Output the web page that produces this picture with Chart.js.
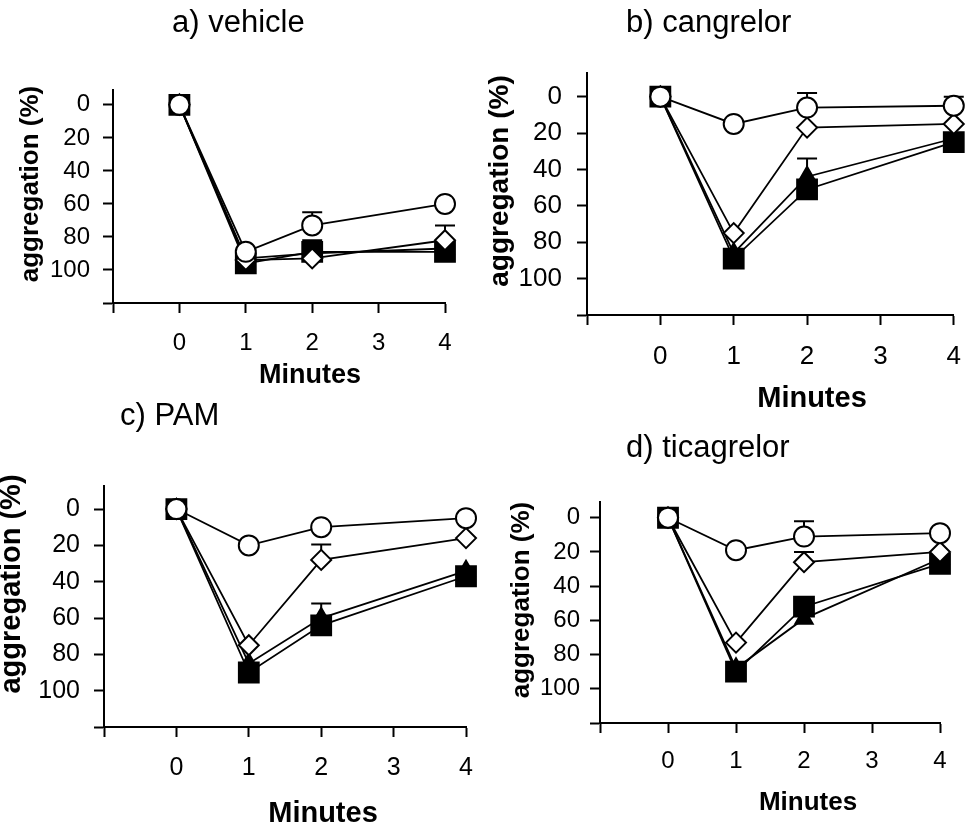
<!DOCTYPE html>
<html>
<head>
<meta charset="utf-8">
<script src="https://cdn.jsdelivr.net/npm/chart.js@4.4.1/dist/chart.umd.min.js"></script>
<style>
  html, body { margin: 0; padding: 0; background: #fff; }
  #wrap { position: relative; width: 977px; height: 825px; overflow: hidden; background: #fff; }
  #wrap canvas { position: absolute; left: 0; top: 0; }
</style>
</head>
<body>
<div id="wrap">
  <canvas id="panelA" width="977" height="825"></canvas>
  <canvas id="panelB" width="977" height="825"></canvas>
  <canvas id="panelC" width="977" height="825"></canvas>
  <canvas id="panelD" width="977" height="825"></canvas>
</div>
<script>
// Sampling times and axis ticks
const minutes = [0, 1, 2, 4];
const xTicks = [-1, 0, 1, 2, 3, 4];
const yTicks = [0, 20, 40, 60, 80, 100, 120];

// a) vehicle — aggregation (%) per group
const vehicleCircle   = [0, 89, 73, 60];
const vehicleDiamond  = [0, 94, 93, 82];
const vehicleSquare   = [0, 96, 89, 89];
const vehicleTriangle = [0, 93, 90, 87];
const vehicleCircleErr   = [null, null, 8, null];
const vehicleDiamondErr  = [null, null, null, 9];
const vehicleSquareErr   = [null, null, 7, null];
const vehicleTriangleErr = [null, null, null, null];

// b) cangrelor
const cangrelorCircle   = [0, 15, 6, 5];
const cangrelorDiamond  = [0, 75, 17, 15];
const cangrelorSquare   = [0, 89, 51, 25];
const cangrelorTriangle = [0, 86, 44, 23];
const cangrelorCircleErr   = [null, null, 8, 5];
const cangrelorDiamondErr  = [null, null, null, null];
const cangrelorSquareErr   = [null, null, null, null];
const cangrelorTriangleErr = [null, null, 10, null];

// c) PAM
const pamCircle   = [0, 20, 10, 5];
const pamDiamond  = [0, 75, 28, 16];
const pamSquare   = [0, 90, 64, 37];
const pamTriangle = [0, 85, 60, 34];
const pamCircleErr   = [null, null, null, null];
const pamDiamondErr  = [null, null, 8.5, null];
const pamSquareErr   = [null, null, null, null];
const pamTriangleErr = [null, null, 8, null];

// d) ticagrelor
const ticaCircle   = [0, 19, 11, 9];
const ticaDiamond  = [0, 73, 26, 20];
const ticaSquare   = [0, 90, 52, 27];
const ticaTriangle = [0, 88, 59, 24];
const ticaCircleErr   = [null, null, 9, null];
const ticaDiamondErr  = [null, null, 6, null];
const ticaSquareErr   = [null, null, null, null];
const ticaTriangleErr = [null, null, null, null];

const FAMILY = "'Liberation Sans', Arial, Helvetica, sans-serif";
const W = 977, H = 825;
const Y_AXIS_W = 70, X_AXIS_H = 80;

// Panel layout: plot box in page pixels, axis range and fonts
const panels = [
  {
    id: 'panelA', box: [113, 90, 445, 303], yMin: -9, tickSize: 24, xPad: 16, yPad: 13,
    series: { circle: vehicleCircle, diamond: vehicleDiamond, square: vehicleSquare, triangle: vehicleTriangle },
    errors: { circle: vehicleCircleErr, diamond: vehicleDiamondErr, square: vehicleSquareErr, triangle: vehicleTriangleErr },
    texts: [
      { text: 'a) vehicle', x: 172, y: 32, align: 'left', baseline: 'alphabetic', font: '31px ' + FAMILY },
      { text: 'Minutes', x: 310, y: 383, baseline: 'alphabetic', font: 'bold 27px ' + FAMILY },
      { text: 'aggregation (%)', x: 31, y: 184, rotate: true, font: 'bold 26px ' + FAMILY }
    ]
  },
  {
    id: 'panelB', box: [587, 73, 959, 315], yMin: -13, tickSize: 26, xPad: 16, yPad: 15,
    series: { circle: cangrelorCircle, diamond: cangrelorDiamond, square: cangrelorSquare, triangle: cangrelorTriangle },
    errors: { circle: cangrelorCircleErr, diamond: cangrelorDiamondErr, square: cangrelorSquareErr, triangle: cangrelorTriangleErr },
    texts: [
      { text: 'b) cangrelor', x: 626, y: 32, align: 'left', baseline: 'alphabetic', font: '31px ' + FAMILY },
      { text: 'Minutes', x: 812, y: 407, baseline: 'alphabetic', font: 'bold 29px ' + FAMILY },
      { text: 'aggregation (%)', x: 500, y: 181, rotate: true, font: 'bold 28px ' + FAMILY }
    ]
  },
  {
    id: 'panelC', box: [104, 486, 466, 727], yMin: -12.7, tickSize: 25, xPad: 16, yPad: 14,
    series: { circle: pamCircle, diamond: pamDiamond, square: pamSquare, triangle: pamTriangle },
    errors: { circle: pamCircleErr, diamond: pamDiamondErr, square: pamSquareErr, triangle: pamTriangleErr },
    texts: [
      { text: 'c) PAM', x: 120, y: 425, align: 'left', baseline: 'alphabetic', font: '31px ' + FAMILY },
      { text: 'Minutes', x: 323, y: 822, baseline: 'alphabetic', font: 'bold 29px ' + FAMILY },
      { text: 'aggregation (%)', x: 12, y: 584, rotate: true, font: 'bold 29px ' + FAMILY }
    ]
  },
  {
    id: 'panelD', box: [600, 502, 940, 723], yMin: -9.2, tickSize: 24, xPad: 14, yPad: 10,
    series: { circle: ticaCircle, diamond: ticaDiamond, square: ticaSquare, triangle: ticaTriangle },
    errors: { circle: ticaCircleErr, diamond: ticaDiamondErr, square: ticaSquareErr, triangle: ticaTriangleErr },
    texts: [
      { text: 'd) ticagrelor', x: 626, y: 457, align: 'left', baseline: 'alphabetic', font: '31px ' + FAMILY },
      { text: 'Minutes', x: 808, y: 810, baseline: 'alphabetic', font: 'bold 26px ' + FAMILY },
      { text: 'aggregation (%)', x: 522, y: 600, rotate: true, font: 'bold 26px ' + FAMILY }
    ]
  }
];

// Marker styles; the first dataset is painted on top
const markerStyles = [
  { key: 'circle',   pointStyle: 'circle',   radius: 10, fill: '#ffffff' },
  { key: 'diamond',  pointStyle: 'rectRot',  radius: 10, fill: '#ffffff' },
  { key: 'square',   pointStyle: 'rect',     radius: 14, fill: '#000000' },
  { key: 'triangle', pointStyle: 'triangle', radius: 10, fill: '#000000' }
];

function toPoints(values) {
  return values.map((v, i) => ({ x: minutes[i], y: v }));
}

function textPlugin(items) {
  return {
    id: 'panelTexts',
    afterDraw(chart) {
      const ctx = chart.ctx;
      items.forEach(it => {
        ctx.save();
        ctx.fillStyle = '#000';
        ctx.font = it.font;
        ctx.translate(it.x, it.y);
        if (it.rotate) ctx.rotate(-Math.PI / 2);
        ctx.textAlign = it.align || 'center';
        ctx.textBaseline = it.baseline || 'middle';
        ctx.fillText(it.text, 0, 0);
        ctx.restore();
      });
    }
  };
}

// Upward error bars (toward smaller values) with a flat cap
function errorBarPlugin(series, errors) {
  return {
    id: 'errorBars',
    beforeDatasetsDraw(chart) {
      const { ctx, scales } = chart;
      const xs = scales.x, ys = scales.y;
      ctx.save();
      ctx.strokeStyle = '#000';
      ctx.lineWidth = 2;
      Object.keys(errors).forEach(key => {
        errors[key].forEach((e, i) => {
          if (e == null) return;
          const px = xs.getPixelForValue(minutes[i]);
          const y0 = ys.getPixelForValue(series[key][i]);
          const y1 = ys.getPixelForValue(series[key][i] - e);
          ctx.beginPath();
          ctx.moveTo(px, y0);
          ctx.lineTo(px, y1);
          ctx.moveTo(px - 10, y1);
          ctx.lineTo(px + 10, y1);
          ctx.stroke();
        });
      });
      ctx.restore();
    }
  };
}

panels.forEach(p => {
  const [left, top, right, bottom] = p.box;
  const tickFont = { family: FAMILY, size: p.tickSize };
  const axisGrid = { drawOnChartArea: false, drawTicks: true, tickLength: 10, tickWidth: 2, tickColor: '#000' };
  const axisBorder = { display: true, color: '#000', width: 2 };

  const datasets = markerStyles.map(m => ({
    label: m.key,
    data: toPoints(p.series[m.key]),
    borderColor: '#000',
    borderWidth: 1.8,
    pointStyle: m.pointStyle,
    pointRadius: m.radius,
    pointHoverRadius: m.radius,
    pointBackgroundColor: m.fill,
    pointBorderColor: '#000',
    pointBorderWidth: 2,
    tension: 0,
    fill: false,
    clip: false
  }));

  new Chart(document.getElementById(p.id), {
    type: 'line',
    data: { datasets },
    options: {
      responsive: false,
      animation: false,
      events: [],
      layout: {
        padding: { left: left - Y_AXIS_W, top: top, right: W - right, bottom: H - bottom - X_AXIS_H }
      },
      plugins: { legend: { display: false }, tooltip: { enabled: false }, title: { display: false } },
      scales: {
        x: {
          type: 'linear', min: -1, max: 4,
          afterBuildTicks: s => { s.ticks = xTicks.map(v => ({ value: v })); },
          afterFit: s => { s.height = X_AXIS_H; },
          ticks: {
            callback: v => (v < 0 ? '' : String(v)),
            font: tickFont, color: '#000', padding: p.xPad, maxRotation: 0, autoSkip: false
          },
          grid: axisGrid,
          border: axisBorder
        },
        y: {
          type: 'linear', reverse: true, min: p.yMin, max: 120,
          afterBuildTicks: s => { s.ticks = yTicks.map(v => ({ value: v })); },
          afterFit: s => { s.width = Y_AXIS_W; },
          ticks: {
            callback: v => (v === 120 ? '' : String(v)),
            font: tickFont, color: '#000', padding: p.yPad, autoSkip: false
          },
          grid: axisGrid,
          border: axisBorder
        }
      }
    },
    plugins: [errorBarPlugin(p.series, p.errors), textPlugin(p.texts)]
  });
});
</script>
</body>
</html>
